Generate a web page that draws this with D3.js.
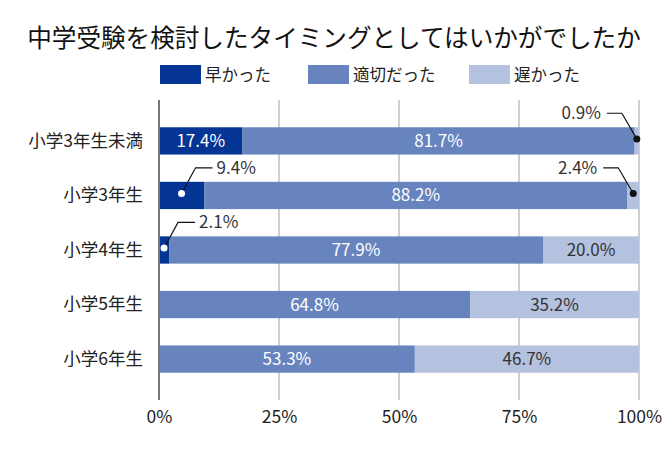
<!DOCTYPE html>
<html lang="ja">
<head>
  <meta charset="UTF-8" />
  <title>中学受験を検討したタイミング</title>
  <script src="https://cdnjs.cloudflare.com/ajax/libs/d3/7.8.5/d3.min.js"></script>
  <style>
    body {
      margin: 0;
      background: #fff;
      font-family: "Noto Sans CJK JP", "Noto Sans", sans-serif;
    }
  </style>
</head>
<body>
  <svg id="chart" width="670" height="450"></svg>

  <script>
    const categories = ["小学3年生未満", "小学3年生", "小学4年生", "小学5年生", "小学6年生"];
    const seriesNames = ["早かった", "適切だった", "遅かった"];
    const early = [17.4, 9.4, 2.1, 0, 0];
    const fit = [81.7, 88.2, 77.9, 64.8, 53.3];
    const late = [0.9, 2.4, 20.0, 35.2, 46.7];
    const ticks = [0, 25, 50, 75, 100];
    const colors = ["#053594", "#6784be", "#b4c2df"];

    const rows = categories.map((c, i) => ({ cat: c, v: [early[i], fit[i], late[i]] }));

    const svg = d3.select("#chart");
    const x = d3.scaleLinear().domain([0, 100]).range([159, 639]);
    const y = d3.scaleBand().domain(categories).range([100, 400]).padding(0.5);

    // title
    svg.append("text")
      .attr("x", 334).attr("y", 47)
      .attr("text-anchor", "middle")
      .attr("font-size", "24.6px")
      .attr("fill", "#111")
      .text("中学受験を検討したタイミングとしてはいかがでしたか");

    // legend
    const legX = [160, 308, 469];
    seriesNames.forEach((name, i) => {
      svg.append("rect")
        .attr("x", legX[i]).attr("y", 65)
        .attr("width", 41).attr("height", 19)
        .attr("fill", colors[i]);
      svg.append("text")
        .attr("x", legX[i] + 45).attr("y", 81)
        .attr("font-size", "16.5px")
        .attr("fill", "#222")
        .text(name);
    });

    // gridlines
    svg.append("g")
      .selectAll("line")
      .data(ticks.slice(1))
      .join("line")
      .attr("x1", d => x(d)).attr("x2", d => x(d))
      .attr("y1", 100).attr("y2", 400)
      .attr("stroke", "#cfcfcf")
      .attr("stroke-width", 2);

    // stacked bars
    const segs = [];
    rows.forEach(r => {
      let acc = 0;
      r.v.forEach((v, k) => {
        segs.push({ cat: r.cat, k, v, x0: acc, x1: acc + v });
        acc += v;
      });
    });

    svg.append("g")
      .selectAll("rect")
      .data(segs.filter(s => s.v > 0))
      .join("rect")
      .attr("x", d => x(d.x0))
      .attr("y", d => y(d.cat))
      .attr("width", d => x(d.x1) - x(d.x0))
      .attr("height", y.bandwidth())
      .attr("fill", d => colors[d.k]);

    // inside labels
    svg.append("g")
      .selectAll("text")
      .data(segs.filter(s => s.v >= 10))
      .join("text")
      .attr("x", d => x((d.x0 + d.x1) / 2))
      .attr("y", d => y(d.cat) + y.bandwidth() / 2 + 6)
      .attr("text-anchor", "middle")
      .attr("font-size", "17px")
      .attr("fill", d => d.k === 2 ? "#333" : "#fff")
      .text(d => d.v.toFixed(1) + "%");

    // callouts for small segments
    const small = segs.filter(s => s.v > 0 && s.v < 10);
    small.forEach(s => {
      const cx = x((s.x0 + s.x1) / 2);
      const cy = y(s.cat) + y.bandwidth() / 2 - 2;
      const ly = y(s.cat) - 14;
      const g = svg.append("g");
      if (s.k === 2) {
        g.append("path")
          .attr("d", `M${cx},${cy} L${cx - 15},${ly} L${cx - 30},${ly}`)
          .attr("fill", "none").attr("stroke", "#111").attr("stroke-width", 1.2);
        g.append("circle").attr("cx", cx).attr("cy", cy).attr("r", 3.5).attr("fill", "#111");
        g.append("text")
          .attr("x", cx - 36).attr("y", ly + 6)
          .attr("text-anchor", "end")
          .attr("font-size", "17px").attr("fill", "#333")
          .text(s.v.toFixed(1) + "%");
      } else {
        g.append("path")
          .attr("d", `M${cx},${cy} L${cx + 14},${ly} L${cx + 31},${ly}`)
          .attr("fill", "none").attr("stroke", "#111").attr("stroke-width", 1.2);
        g.append("circle").attr("cx", cx).attr("cy", cy).attr("r", 3.5).attr("fill", "#fff");
        g.append("text")
          .attr("x", cx + 35).attr("y", ly + 6)
          .attr("font-size", "17px").attr("fill", "#333")
          .text(s.v.toFixed(1) + "%");
      }
    });

    // y axis
    const yAxis = svg.append("g")
      .attr("transform", "translate(159,0)")
      .call(d3.axisLeft(y).tickSize(0).tickPadding(16));
    yAxis.select(".domain")
      .attr("d", "M0,100V400")
      .attr("stroke", "#777").attr("stroke-width", 2);
    yAxis.selectAll("text")
      .attr("font-size", "17.5px")
      .attr("font-family", "Noto Sans CJK JP")
      .attr("fill", "#222");

    // x axis
    const xAxis = svg.append("g")
      .attr("transform", "translate(0,400)")
      .call(d3.axisBottom(x).tickValues(ticks).tickSize(0).tickPadding(11).tickFormat(d => d + "%"));
    xAxis.select(".domain").remove();
    xAxis.selectAll("text")
      .attr("font-size", "17.5px")
      .attr("font-family", "Noto Sans CJK JP")
      .attr("fill", "#222");
  </script>
</body>
</html>
